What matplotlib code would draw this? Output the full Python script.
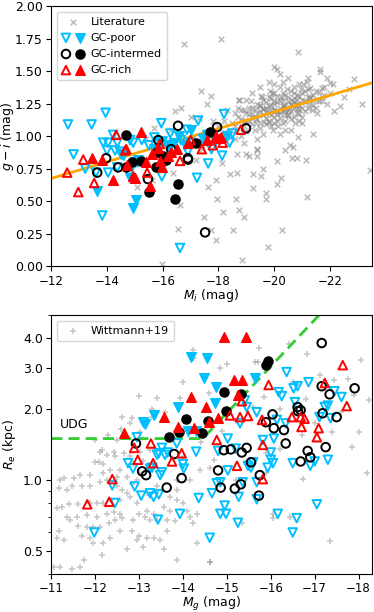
import matplotlib
matplotlib.use("Agg")
import matplotlib.pyplot as plt
from matplotlib.legend_handler import HandlerTuple
from matplotlib.ticker import FixedLocator, ScalarFormatter, NullFormatter

# ---------------- top panel: colour-magnitude (M_i, g-i) ----------------
lit_mi = [-18.5, -18.7, -18.9, -19.0, -19.1, -19.2, -19.3, -19.3, -19.4, -19.5, -19.5, -19.6, -19.6, -19.7,
          -19.7, -19.8, -19.8, -19.9, -19.9, -20.0, -20.0, -20.0, -20.1, -20.1, -20.2, -20.2, -20.2, -20.3,
          -20.3, -20.4, -20.4, -20.4, -20.5, -20.5, -20.6, -20.6, -20.7, -20.7, -20.8, -20.8, -20.9, -20.9,
          -21.0, -21.0, -21.1, -21.1, -21.2, -21.3, -21.3, -21.4, -21.5, -21.6, -21.7, -21.8, -22.0, -22.1,
          -21.9, -20.6, -20.2, -19.4, -18.8, -18.4, -18.2, -18.0, -17.8, -19.0, -18.74, -19.2, -19.92, -20.3,
          -20.5, -20.2, -20.1, -19.99, -20.84, -21.64, -21.64, -21.17, -22.0, -22.86, -23.15, -22.36, -22.14,
          -21.53, -21.0, -20.85, -20.57, -20.4, -20.8, -19.4, -19.1, -18.9, -18.6, -18.2, -16.77, -18.09,
          -17.38, -17.73, -17.6, -18.74, -19.53, -16.66, -17.0, -16.45, -15.67, -16.37, -16.62, -16.55,
          -15.98, -17.48, -17.73, -17.63, -17.91, -17.94, -18.17, -18.52, -18.63, -18.74, -18.85, -18.9,
          -19.24, -19.53, -19.7, -19.72, -19.78, -20.1, -20.1, -20.27, -20.24, -20.68, -20.64, -21.14, -21.17,
          -18.67, -18.4, -18.13, -18.67, -19.0, -19.38, -19.4, -23.45, -15.07, -15.6, -17.4, -17.2, -16.8,
          -17.1, -16.3, -15.4, -19.6, -20.4, -21.4, -22.5, -22.7, -21.9, -19.8, -19.5, -18.3, -17.3, -20.9,
          -20.0, -19.1, -18.6, -21.2, -20.7, -19.95, -16.0, -17.9, -19.25,
          -19.2, -19.5, -19.8, -20.1, -20.3, -20.5, -20.7, -20.9, -21.1, -21.3, -19.9, -20.6, -20.0, -20.4,
          -19.6, -19.0, -18.8, -21.5, -21.7, -20.8,
          -18.6, -18.8, -18.9, -19.0, -19.1, -19.2, -19.3, -19.4, -19.4, -19.5, -19.5, -19.6, -19.6, -19.7,
          -19.7, -19.8, -19.8, -19.9, -19.9, -20.0, -20.0, -20.1, -20.1, -20.2, -20.2, -20.3, -20.3, -20.4,
          -20.4, -20.5, -20.5, -20.6, -20.6, -20.7, -20.7, -20.8, -20.8, -20.9, -20.9, -21.0, -21.0, -21.1,
          -21.2, -21.2, -21.3, -21.4, -21.5, -21.6, -21.8, -19.25, -19.55, -19.85, -20.15, -20.45, -20.75,
          -21.05, -19.15, -18.95, -19.65, -20.35, -20.55, -20.05, -19.75, -20.25, -20.65, -19.35, -18.7,
          -21.35, -20.95, -21.7]
lit_gi = [1.10, 1.15, 1.08, 1.18, 1.12, 1.22, 1.05, 1.15, 1.25, 1.10, 1.19, 1.28, 1.02, 1.14,
          1.22, 1.18, 1.30, 1.08, 1.24, 1.15, 1.20, 1.33, 1.12, 1.26, 1.18, 1.22, 1.38, 1.10,
          1.28, 1.16, 1.24, 1.32, 1.20, 1.27, 1.13, 1.35, 1.22, 1.29, 1.18, 1.25, 1.31, 1.40,
          1.22, 1.28, 1.35, 1.19, 1.30, 1.25, 1.37, 1.32, 1.28, 1.34, 1.30, 1.38, 1.33, 1.40,
          1.25, 1.05, 1.02, 0.98, 1.00, 1.05, 1.12, 1.08, 1.12, 1.28, 1.28, 1.33, 1.33, 1.42,
          1.45, 1.48, 1.52, 1.53, 1.65, 1.52, 1.49, 1.42, 1.41, 1.44, 1.25, 1.23, 1.19,
          1.18, 1.10, 0.99, 0.93, 0.89, 0.83, 0.89, 0.85, 0.95, 0.98, 1.03, 1.71, 1.75,
          1.35, 1.31, 1.25, 1.28, 1.31, 1.22, 1.15, 1.19, 1.06, 0.72, 0.47, 0.29,
          0.02, 0.38, 0.28, 0.61, 0.20, 0.52, 0.42, 0.28, 0.52, 0.43, 0.05, 0.38,
          0.71, 0.69, 0.56, 0.52, 0.15, 0.63, 0.81, 0.28, 0.68, 0.92, 0.83, 0.82, 0.53,
          0.72, 0.71, 0.79, 0.86, 0.86, 0.85, 0.90, 0.74, 0.61, 0.66, 0.90, 0.82, 0.95,
          1.00, 1.05, 0.98, 0.75, 1.05, 1.02, 1.30, 1.36, 1.45, 1.42, 1.38, 1.20, 1.14, 1.12,
          1.40, 1.22, 1.18, 1.45, 1.38, 1.05, 0.85, 0.66, 0.60,
          1.17, 1.23, 1.11, 1.19, 1.23, 1.16, 1.26, 1.21, 1.27, 1.30, 1.20, 1.24, 1.27, 1.20,
          1.21, 1.12, 1.20, 1.22, 1.27, 1.32,
          1.08, 1.13, 1.20, 1.04, 1.17, 1.09, 1.21, 1.13, 1.18, 1.24, 1.06, 1.16, 1.21, 1.09,
          1.26, 1.12, 1.23, 1.16, 1.29, 1.10, 1.25, 1.17, 1.31, 1.14, 1.27, 1.19, 1.33, 1.21,
          1.12, 1.30, 1.16, 1.25, 1.19, 1.33, 1.15, 1.21, 1.28, 1.17, 1.24, 1.33, 1.15, 1.26,
          1.22, 1.36, 1.29, 1.24, 1.35, 1.27, 1.32, 1.14, 1.30, 1.35, 1.08, 1.36, 1.10,
          1.40, 1.27, 1.12, 1.11, 1.23, 1.22, 1.19, 1.19, 1.30, 1.28, 1.10, 1.22,
          1.20, 1.36, 1.37]

poor_o_mi = [-12.6, -13.45, -13.95, -13.86, -14.04, -14.37, -14.0, -14.29, -14.47, -14.83, -14.94, -14.22,
             -12.8, -13.22, -14.04, -14.37, -14.8, -13.83, -16.62, -17.63, -17.23, -18.13, -15.97, -15.1,
             -15.95, -17.27, -18.2, -16.27, -16.87, -16.3, -16.65, -17.0, -17.45, -17.9, -18.5, -15.5,
             -15.25, -16.9, -17.75, -14.6, -13.6, -15.7, -16.0, -17.6, -18.4]
poor_o_gi = [1.09, 1.09, 1.18, 0.95, 0.95, 0.95, 0.89, 0.89, 0.88, 0.97, 0.95, 1.01,
             0.86, 0.75, 0.72, 0.76, 0.72, 0.39, 0.14, 0.79, 0.68, 0.85, 0.69, 0.80,
             1.10, 1.12, 1.17, 1.02, 1.05, 0.93, 0.97, 0.95, 0.98, 0.96, 1.02, 0.93,
             0.97, 0.88, 0.90, 0.85, 0.72, 0.99, 0.96, 1.01, 0.95]
poor_f_mi = [-13.65, -15.05, -14.95, -14.83, -15.0, -15.1, -16.2, -16.4, -17.0, -16.6, -17.5, -15.7,
             -16.8, -18.3, -14.5, -15.9]
poor_f_gi = [0.58, 0.51, 0.45, 0.68, 0.80, 0.82, 0.92, 0.95, 1.05, 1.00, 0.98, 0.90,
             0.93, 1.00, 0.86, 0.95]

mid_o_mi = [-13.65, -13.97, -14.4, -15.47, -16.91, -17.52, -16.55, -17.95, -18.99, -15.84, -16.9, -16.3]
mid_o_gi = [0.72, 0.83, 0.76, 0.67, 0.82, 0.26, 1.08, 1.07, 1.06, 0.97, 0.83, 0.90]
mid_f_mi = [-14.69, -15.5, -16.55, -16.44, -15.76, -14.9, -14.69, -15.23, -16.0, -16.1, -17.7, -15.8, -17.2]
mid_f_gi = [1.01, 0.57, 0.63, 0.52, 0.76, 0.80, 0.76, 0.81, 0.85, 0.82, 1.03, 0.88, 0.95]

rich_o_mi = [-12.97, -12.57, -13.15, -13.54, -14.33, -14.65, -14.69, -15.44, -16.62, -17.8, -17.4,
             -18.06, -18.15, -18.8, -17.0, -15.9]
rich_o_gi = [0.57, 0.72, 0.82, 0.64, 1.01, 0.89, 0.90, 0.72, 0.81, 0.93, 0.90,
             0.98, 0.95, 1.05, 0.97, 0.94]
rich_f_mi = [-15.23, -13.48, -13.83, -14.22, -14.72, -14.94, -15.4, -15.97, -15.55, -15.0, -15.84,
             -15.9, -16.2, -16.5, -16.9, -17.6, -17.9, -18.1, -15.6, -16.3]
rich_f_gi = [1.03, 0.83, 0.82, 0.66, 0.78, 0.69, 0.80, 0.76, 0.62, 0.68, 0.91,
             0.81, 0.85, 0.90, 0.95, 0.97, 1.00, 0.99, 0.86, 0.88]

fit_mi = [-12.0, -23.5]
fit_gi = [0.675, 1.41]

# ---------------- bottom panel: size-magnitude (M_g, R_e) ----------------
witt_mg = [-12.12, -12.08, -12.0, -12.19, -12.42, -12.46, -12.57, -12.72, -12.5, -12.34, -12.19, -11.89,
           -11.66, -11.51, -11.28, -11.21, -11.17, -11.36, -11.47, -11.7, -11.89, -12.12, -12.27, -12.5,
           -12.61, -12.72, -12.8, -12.57, -12.34, -12.19, -12.04, -11.89, -11.62, -11.4, -11.25, -11.13,
           -11.36, -11.59, -11.81, -12.04, -12.27, -12.42, -12.57, -12.61, -12.46, -12.31, -12.12, -11.96,
           -11.81, -11.62, -11.43, -11.13, -11.28, -11.7, -11.89, -11.96, -12.19, -12.34, -12.57, -12.84,
           -12.99, -12.95, -13.1, -12.72, -12.15, -11.74, -11.66, -11.47, -11.06, -11.17, -12.95, -12.99,
           -13.18, -13.25, -13.4, -13.63, -13.82, -14.16, -14.24, -14.31, -14.09, -13.71, -13.56, -13.33,
           -13.14, -12.87, -13.63, -13.48, -13.56, -13.18, -13.33, -13.71, -13.86, -13.18, -13.4, -12.84,
           -12.95, -13.03, -13.18, -13.1, -13.03, -13.25, -12.87, -12.8, -12.65, -14.01, -13.86, -13.86,
           -14.16, -14.39, -14.62, -14.62, -14.31, -13.86, -11.21, -12.0, -12.5, -13.03, -12.87,
           -13.0, -13.4, -13.93, -14.22, -14.25, -14.84, -15.0, -15.64, -15.7, -15.73, -16.41, -16.82,
           -18.05, -18.23, -17.11, -17.45, -17.77, -17.84, -17.4, -16.5, -15.84, -15.6, -13.6, -13.3,
           -12.84, -12.8, -12.62, -12.16, -12.27, -18.2, -16.73, -17.36, -16.05, -16.43, -15.34, -15.2,
           -15.2, -15.9, -16.2, -15.9, -14.61, -16.05, -16.7, -17.0, -17.6, -16.2, -14.9, -14.4, -15.2,
           -16.8, -17.9, -14.0, -14.7, -13.7, -14.6, -14.0, -13.3, -12.6, -12.3, -18.0]
witt_re = [1.32, 1.19, 1.19, 1.17, 1.32, 1.26, 1.10, 1.03, 1.03, 1.10, 1.07, 1.05,
           1.05, 1.02, 1.02, 1.00, 0.93, 0.91, 0.94, 0.94, 0.94, 0.98, 1.00, 0.94,
           0.91, 0.88, 0.85, 0.82, 0.82, 0.80, 0.80, 0.80, 0.79, 0.79, 0.77, 0.76,
           0.70, 0.70, 0.71, 0.70, 0.72, 0.73, 0.72, 0.69, 0.68, 0.66, 0.63, 0.63,
           0.63, 0.64, 0.68, 0.57, 0.56, 0.58, 0.57, 0.54, 0.54, 0.57, 0.61, 0.61,
           0.58, 0.56, 0.52, 0.51, 0.48, 0.46, 0.43, 0.42, 0.43, 0.61, 0.80, 0.72,
           0.74, 0.68, 0.68, 0.68, 0.67, 0.70, 0.66, 0.72, 0.74, 0.74, 0.77, 0.72,
           0.70, 0.68, 0.61, 0.56, 0.51, 0.57, 0.57, 0.85, 0.82, 0.88, 0.94, 0.96,
           1.00, 1.07, 1.12, 1.21, 1.32, 1.34, 1.17, 1.26, 1.30, 0.80, 0.91, 1.00,
           1.00, 1.10, 1.13, 0.45, 0.54, 0.46, 0.43, 1.48, 1.48, 1.60, 1.41,
           2.27, 2.22, 2.22, 3.55, 3.30, 3.00, 3.12, 3.16, 3.16, 3.63, 3.77, 3.42,
           3.22, 2.18, 2.78, 2.65, 2.68, 1.38, 1.60, 2.60, 2.25, 2.05, 1.95, 1.85,
           1.83, 1.75, 1.85, 1.34, 1.28, 1.07, 1.01, 0.55, 0.69, 0.70, 0.66, 1.00,
           0.96, 1.07, 1.35, 1.30, 0.45, 0.72, 1.55, 1.75, 1.95, 2.00, 1.62, 1.45, 1.78,
           2.20, 2.30, 1.25, 1.22, 1.55, 2.35, 2.60, 2.00, 1.65, 1.55, 1.60]

bpoor_o_mg = [-16.36, -16.86, -16.52, -16.61, -16.18, -16.25, -17.45, -17.61, -16.55, -17.23, -17.3,
              -17.11, -17.36, -15.45, -15.41, -15.68, -16.14, -16.34, -15.3, -15.82, -16.07, -15.02,
              -14.8, -15.2, -16.0, -12.95, -13.86, -13.52, -13.45, -13.65, -17.3, -12.75, -12.86,
              -13.41, -13.59, -13.52, -13.48, -12.9, -13.05, -13.25, -13.33, -13.45, -13.43, -13.93,
              -14.0, -14.02, -14.36, -12.45, -11.98, -12.39, -14.61, -14.66, -14.77, -14.85, -15.02,
              -14.95, -14.98, -14.85, -15.25, -15.27, -15.36, -15.48, -15.6, -15.68, -15.68, -15.93,
              -16.05, -16.16, -16.5, -16.5, -16.59, -17.05, -16.9, -17.0, -15.55, -16.0, -14.3,
              -13.25, -13.3]
bpoor_o_re = [2.87, 2.60, 2.45, 2.50, 2.36, 2.27, 2.38, 2.25, 2.14, 2.04, 2.07,
              1.85, 1.83, 2.04, 2.18, 1.94, 1.80, 1.74, 1.74, 1.48, 1.50, 1.50,
              1.33, 1.36, 1.31, 1.52, 1.43, 1.37, 1.30, 1.31, 1.22, 1.18, 1.12,
              1.28, 1.28, 1.08, 1.05, 0.94, 0.86, 0.88, 0.85, 0.87, 0.68, 0.72,
              1.17, 1.12, 0.84, 0.80, 0.60, 0.95, 0.57, 0.88, 0.97, 0.98, 1.10,
              0.78, 0.72, 0.72, 0.66, 0.85, 0.98, 1.15, 1.19, 0.98, 0.83, 1.13,
              1.18, 0.72, 1.18, 0.60, 0.69, 0.79, 1.15, 1.20, 1.13, 1.22, 1.32,
              1.12, 1.13]
bpoor_f_mg = [-14.18, -14.55, -14.48, -14.75, -14.73, -13.89, -13.34, -13.1, -13.14, -15.65, -14.11, -14.3]
bpoor_f_re = [3.32, 3.29, 2.70, 2.48, 2.12, 2.04, 1.88, 1.76, 1.73, 2.70, 1.61, 1.61]

bmid_o_mg = [-17.16, -17.16, -17.34, -17.91, -17.18, -17.5, -16.61, -16.68, -16.62, -16.04, -15.89,
             -16.07, -16.3, -16.34, -16.84, -17.25, -14.93, -15.09, -15.45, -15.34, -12.93, -13.8,
             -13.07, -13.16, -13.63, -13.97, -14.8, -14.86, -15.18, -15.32, -15.75, -15.73, -16.68,
             -15.55, -16.9]
bmid_o_re = [3.81, 2.50, 2.31, 2.45, 1.92, 1.85, 2.04, 1.98, 1.96, 1.90, 1.76,
             1.66, 1.63, 1.43, 1.33, 1.38, 1.34, 1.35, 1.37, 1.31, 1.43, 1.29,
             1.09, 1.05, 0.93, 1.02, 1.10, 0.93, 0.92, 0.96, 1.05, 0.86, 1.20,
             1.19, 1.25]
bmid_f_mg = [-15.93, -15.9, -14.93, -15.32, -14.98, -14.08, -13.69, -13.92, -14.43, -14.57]
bmid_f_re = [3.19, 3.09, 2.36, 2.31, 1.96, 1.81, 1.52, 1.60, 1.58, 1.78]

brich_o_mg = [-17.64, -17.23, -17.73, -15.95, -15.34, -15.07, -15.3, -15.48, -15.8, -16.48, -16.68,
              -16.77, -16.7, -17.09, -17.05, -15.82, -14.77, -13.97, -13.27, -12.89, -11.82, -12.32,
              -12.39, -12.97, -13.32, -13.75, -15.23, -15.82]
brich_o_re = [3.07, 2.58, 2.06, 2.53, 2.16, 1.88, 1.85, 1.87, 1.80, 1.85, 1.85,
              1.82, 1.68, 1.66, 1.52, 1.41, 1.48, 1.30, 1.43, 1.37, 0.79, 0.81,
              1.01, 1.22, 1.18, 1.20, 1.15, 1.01]
brich_f_mg = [-14.93, -15.43, -14.18, -15.16, -15.34, -13.57, -13.89, -14.25, -14.52, -14.8, -15.25,
              -12.66, -14.59]
brich_f_re = [4.04, 4.04, 2.25, 2.65, 2.65, 1.85, 1.68, 1.66, 2.04, 1.83, 2.29, 1.58, 1.76]

udg_mg = [-11.0, -14.45, -17.1]
udg_re = [1.5, 1.5, 5.0]

cpoor = '#00bfff'
cmid = 'black'
crich = 'red'
ms = 38
lw = 1.4

fig = plt.figure(figsize=(3.74, 6.12), dpi=100)
ax1 = fig.add_axes([0.137, 0.565, 0.857, 0.425])
ax2 = fig.add_axes([0.137, 0.062, 0.857, 0.423])

# top
h_lit = ax1.scatter(lit_mi, lit_gi, marker='x', s=16, color='gray', alpha=0.5, linewidths=1.2, zorder=1)
ax1.plot(fit_mi, fit_gi, color='orange', lw=2, zorder=2)
po = ax1.scatter(poor_o_mi, poor_o_gi, marker='v', s=ms, facecolors='none', edgecolors=cpoor, linewidths=lw, zorder=3)
pf = ax1.scatter(poor_f_mi, poor_f_gi, marker='v', s=ms + 10, color=cpoor, zorder=3)
mo = ax1.scatter(mid_o_mi, mid_o_gi, marker='o', s=ms, facecolors='none', edgecolors=cmid, linewidths=lw, zorder=3)
mf = ax1.scatter(mid_f_mi, mid_f_gi, marker='o', s=ms + 5, color=cmid, zorder=3)
ro = ax1.scatter(rich_o_mi, rich_o_gi, marker='^', s=ms, facecolors='none', edgecolors=crich, linewidths=lw, zorder=3)
rf = ax1.scatter(rich_f_mi, rich_f_gi, marker='^', s=ms + 10, color=crich, zorder=3)
ax1.set_xlim(-12, -23.5)
ax1.set_ylim(0, 2)
ax1.set_xticks([-12, -14, -16, -18, -20, -22])
ax1.set_yticks([0, 0.25, 0.5, 0.75, 1.0, 1.25, 1.5, 1.75, 2.0])
ax1.set_yticklabels(['0.00', '0.25', '0.50', '0.75', '1.00', '1.25', '1.50', '1.75', '2.00'])
ax1.set_xlabel(r'$M_i$ (mag)', fontsize=9)
ax1.set_ylabel(r'$g-i$ (mag)', fontsize=9)
ax1.xaxis.set_label_coords(0.5, -0.08)
ax1.yaxis.set_label_coords(-0.11, 0.5)
ax1.tick_params(axis='x', labelsize=8.5, pad=2.5)
ax1.tick_params(axis='y', labelsize=9, pad=2.5)
ax1.legend([h_lit, (po, pf), (mo, mf), (ro, rf)],
           ['Literature', 'GC-poor', 'GC-intermed', 'GC-rich'],
           handler_map={tuple: HandlerTuple(ndivide=None, pad=0.5)},
           loc='upper left', fontsize=8, handlelength=2.0, handletextpad=0.6,
           labelspacing=0.55, borderpad=0.45)

# bottom
h_w = ax2.scatter(witt_mg, witt_re, marker='+', s=22, color='gray', alpha=0.45, linewidths=1.1, zorder=1)
ax2.plot(udg_mg, udg_re, color='limegreen', ls='--', lw=2, zorder=2, dashes=(4, 2.2))
ax2.text(-11.2, 1.66, 'UDG', fontsize=9)
ax2.scatter(bpoor_o_mg, bpoor_o_re, marker='v', s=ms, facecolors='none', edgecolors=cpoor, linewidths=lw, zorder=3)
ax2.scatter(bpoor_f_mg, bpoor_f_re, marker='v', s=ms + 10, color=cpoor, zorder=3)
ax2.scatter(bmid_o_mg, bmid_o_re, marker='o', s=ms, facecolors='none', edgecolors=cmid, linewidths=lw, zorder=3)
ax2.scatter(bmid_f_mg, bmid_f_re, marker='o', s=ms + 5, color=cmid, zorder=3)
ax2.scatter(brich_o_mg, brich_o_re, marker='^', s=ms, facecolors='none', edgecolors=crich, linewidths=lw, zorder=3)
ax2.scatter(brich_f_mg, brich_f_re, marker='^', s=ms + 10, color=crich, zorder=3)
ax2.set_yscale('log')
ax2.set_xlim(-11, -18.3)
ax2.set_ylim(0.4, 5.0)
ax2.yaxis.set_major_locator(FixedLocator([0.5, 1, 2, 3, 4]))
ax2.yaxis.set_major_formatter(ScalarFormatter())
ax2.yaxis.set_minor_formatter(NullFormatter())
ax2.set_xticks([-11, -12, -13, -14, -15, -16, -17, -18])
ax2.set_xlabel(r'$M_g$ (mag)', fontsize=9)
ax2.set_ylabel(r'$R_e$ (kpc)', fontsize=9)
ax2.xaxis.set_label_coords(0.5, -0.08)
ax2.yaxis.set_label_coords(-0.105, 0.5)
ax2.tick_params(axis='x', labelsize=8.5, pad=2.5)
ax2.tick_params(axis='y', labelsize=9, pad=2.5)
ax2.legend([h_w], ['Wittmann+19'], loc='upper left', fontsize=8, handletextpad=0.6, borderpad=0.45)

fig.savefig('out.png', dpi=100)
